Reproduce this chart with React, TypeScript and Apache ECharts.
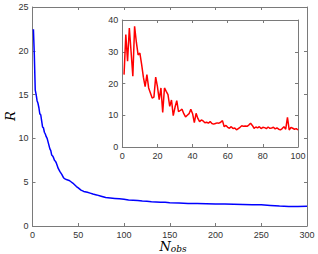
import React, { useEffect, useRef } from 'react';
import * as echarts from 'echarts';

// Main curve (blue): N_obs vs R
const blueN = [1, 2, 3, 4, 5, 6, 7, 8, 9, 10, 11, 12, 13, 14, 15, 16, 17, 18, 19, 20, 21, 22, 23, 24, 25, 26, 27, 28, 29, 30, 32, 34, 35, 37, 40, 42, 44, 46, 48, 50, 53, 56, 60, 63, 66, 70, 75, 80, 85, 90, 95, 100, 105, 110, 115, 120, 125, 130, 135, 140, 145, 150, 160, 170, 180, 190, 200, 210, 220, 230, 240, 250, 260, 270, 280, 290, 300];
const blueR = [22.45, 19.5, 15.5, 15, 14.3, 14, 13.5, 12.8, 12.7, 12.0, 11.3, 11.2, 10.7, 10.5, 10.2, 10, 9.6, 9.2, 8.8, 8.6, 8.1, 8.0, 7.8, 7.5, 7.4, 7.2, 6.9, 6.6, 6.4, 6.2, 5.9, 5.5, 5.4, 5.3, 5.2, 5.05, 4.9, 4.7, 4.5, 4.35, 4.1, 3.95, 3.85, 3.75, 3.65, 3.55, 3.4, 3.25, 3.2, 3.15, 3.1, 3.05, 2.98, 2.95, 2.9, 2.85, 2.82, 2.78, 2.75, 2.72, 2.7, 2.66, 2.62, 2.58, 2.57, 2.55, 2.52, 2.5, 2.48, 2.46, 2.44, 2.42, 2.35, 2.28, 2.24, 2.24, 2.25];

// Inset curve (red): N = 1..100
const redR = [22.8, 35.4, 27, 37.5, 30, 22.3, 38, 33, 29, 29.6,
  26, 22, 19, 22.8, 18.6, 17, 15.4, 15.7, 22, 19,
  14.9, 18.6, 10.9, 18.6, 17.5, 16.5, 12.8, 14.8, 9.9, 12.5,
  14.6, 11.1, 11.5, 11.9, 10.5, 9.5, 10, 10.5, 11.9, 10.5,
  7.65, 10.6, 9, 8, 8.5, 8.2, 7.65, 7.8, 7.5, 8,
  7.4, 7.2, 7.4, 7.6, 7.5, 7.8, 8.3, 6.4, 6.8, 6.2,
  5.9, 6.4, 5.8, 6, 5.4, 5.8, 6.2, 6.7, 6.5, 6.6,
  6.5, 6.9, 7.5, 6.8, 5.9, 6.3, 6.0, 6.4, 5.8, 6.2,
  6.1, 5.8, 6.3, 5.9, 6.0, 6.2, 5.7, 6.0, 5.6, 5.4,
  5.8, 6.4, 5.6, 9.3, 5.35, 6.2, 5.9, 5.6, 5.8, 5.35];
const redN = redR.map((_, i) => i + 1);

const mainXTicks = { min: 0, max: 300, interval: 50 };
const mainYTicks = { min: 0, max: 25, interval: 5 };
const insetXTicks = { min: 0, max: 100, interval: 20 };
const insetYTicks = { min: 0, max: 40, interval: 10 };

const AXIS_COLOR = '#7a7a7a';
const LABEL_COLOR = '#333333';

function axis(gridIndex: number, ticks: any, position: string, showLabel: boolean) {
  return {
    type: 'value',
    gridIndex,
    position,
    min: ticks.min,
    max: ticks.max,
    interval: ticks.interval,
    axisLine: { show: true, onZero: false, lineStyle: { color: AXIS_COLOR, width: 1 } },
    axisTick: { show: true, inside: true, length: 3, lineStyle: { color: AXIS_COLOR } },
    axisLabel: {
      show: showLabel,
      color: LABEL_COLOR,
      fontSize: 9,
      fontFamily: 'Liberation Sans',
      margin: 4,
    },
    splitLine: { show: false },
  };
}

export default function App() {
  const ref = useRef<HTMLDivElement>(null);
  useEffect(() => {
    if (!ref.current) return;
    const chart = echarts.init(ref.current, null, { renderer: 'svg' });
    chart.setOption({
      animation: false,
      backgroundColor: '#ffffff',
      grid: [
        { left: 32.5, top: 7, right: 11, bottom: 28, show: false, containLabel: false, outerBoundsMode: 'none' },
        { left: 122.3, top: 20, right: 20, bottom: 107, show: true, backgroundColor: '#ffffff', borderWidth: 0, containLabel: false, outerBoundsMode: 'none' },
      ],
      xAxis: [
        axis(0, mainXTicks, 'bottom', true),
        axis(0, mainXTicks, 'top', false),
        axis(1, insetXTicks, 'bottom', true),
        axis(1, insetXTicks, 'top', false),
      ],
      yAxis: [
        axis(0, mainYTicks, 'left', true),
        axis(0, mainYTicks, 'right', false),
        axis(1, insetYTicks, 'left', true),
        axis(1, insetYTicks, 'right', false),
      ],
      graphic: [
        {
          type: 'text',
          x: 10,
          y: 116,
          rotation: Math.PI / 2,
          style: {
            text: 'R',
            fontFamily: 'DejaVu Serif',
            fontStyle: 'italic',
            fontSize: 13,
            fill: '#000',
            align: 'center',
            verticalAlign: 'middle',
          },
        },
        {
          type: 'text',
          x: 173,
          y: 246,
          style: {
            text: '{n|N}{s|obs}',
            align: 'center',
            verticalAlign: 'middle',
            rich: {
              n: { fontFamily: 'DejaVu Serif', fontStyle: 'italic', fontSize: 13, fill: '#000' },
              s: { fontFamily: 'DejaVu Serif', fontStyle: 'italic', fontSize: 9, fill: '#000', padding: [6, 0, 0, 0] },
            },
          },
        },
      ],
      series: [
        {
          type: 'line',
          xAxisIndex: 0,
          yAxisIndex: 0,
          data: blueN.map((n, i) => [n, blueR[i]]),
          showSymbol: false,
          lineStyle: { color: '#0000ff', width: 1.5 },
          itemStyle: { color: '#0000ff' },
        },
        {
          type: 'line',
          xAxisIndex: 2,
          yAxisIndex: 2,
          data: redN.map((n, i) => [n, redR[i]]),
          showSymbol: false,
          lineStyle: { color: '#ff0000', width: 1.5 },
          itemStyle: { color: '#ff0000' },
        },
      ],
    });
    return () => chart.dispose();
  }, []);
  return <div ref={ref} style={{ position: 'absolute', left: 0, top: 0, width: 318, height: 254 }} />;
}
